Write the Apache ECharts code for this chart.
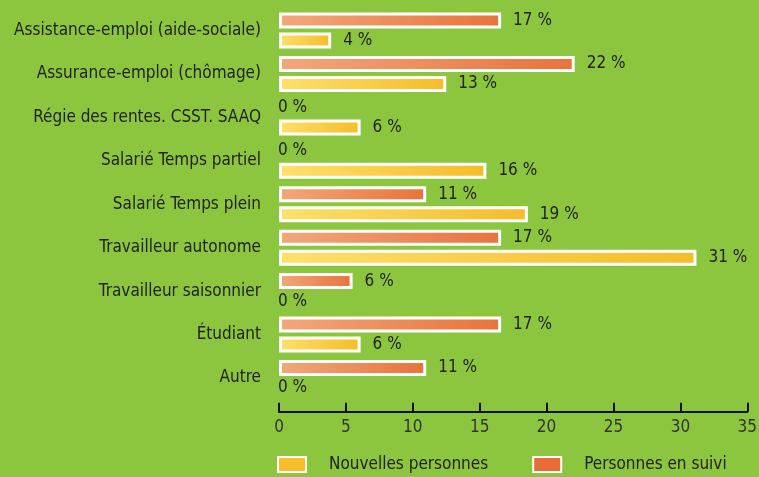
<!DOCTYPE html>
<html><head><meta charset="utf-8">
<script src="https://cdn.jsdelivr.net/npm/echarts@6/dist/echarts.min.js"></script>
<style>html,body{margin:0;padding:0;background:#8cc63f}#c{width:759px;height:477px}</style>
</head><body><div id="c"></div>
<script>
const categories = ["Assistance-emploi (aide-sociale)","Assurance-emploi (chômage)","Régie des rentes. CSST. SAAQ","Salarié Temps partiel","Salarié Temps plein","Travailleur autonome","Travailleur saisonnier","Étudiant","Autre"];
const suivi = [16.6, 22.1, 0, 0, 11.0, 16.6, 5.5, 16.6, 11.0];
const nouvelles = [3.9, 12.5, 6.1, 15.5, 18.6, 31.2, 0, 6.1, 0];
const xTicks = [0, 5, 10, 15, 20, 25, 30, 35];

const FONT = '"DejaVu Sans Condensed","Liberation Sans Narrow",sans-serif';
function items(arr){
  return arr.map(v => v === 0
    ? {value: v, itemStyle:{borderWidth:0, color:'rgba(0,0,0,0)', borderColor:'rgba(0,0,0,0)'}, label:{distance: -1}}
    : {value: v, label:{distance: 12}});
}
const orangeGrad = new echarts.graphic.LinearGradient(0,0,1,0,[{offset:0,color:'#f2a87a'},{offset:1,color:'#e8733b'}]);
const yellowGrad = new echarts.graphic.LinearGradient(0,0,1,0,[{offset:0,color:'#fde06c'},{offset:1,color:'#f5bc28'}]);
const labelCommon = {show:true, position:'right', color:'#222', fontFamily:FONT, fontSize:17, formatter: p => Math.round(p.value) + ' %'};

const chart = echarts.init(document.getElementById('c'));
chart.setOption({
  backgroundColor:'#8cc63f',
  animation:false,
  grid:{left:279, right:11.7, top:8.8, bottom:77.3, outerBoundsMode:'none', containLabel:false},
  legend:{
    data:[
      {name:'Nouvelles personnes', icon:'rect', itemStyle:{color:'#f6bd2b', borderColor:'#fff', borderWidth:2}},
      {name:'Personnes en suivi', icon:'rect', itemStyle:{color:'#e86c35', borderColor:'#fff', borderWidth:2}}
    ],
    left:277, top:456, padding:0, itemWidth:28, itemHeight:15, itemGap:44,
    textStyle:{fontFamily:FONT, fontSize:17, color:'#222', padding:[0,0,0,18]}
  },
  xAxis:{
    type:'value', min:xTicks[0], max:xTicks[xTicks.length-1], interval:5, offset:12,
    axisLine:{show:true, lineStyle:{color:'#111', width:2}},
    axisTick:{show:true, inside:true, length:9, lineStyle:{color:'#111', width:2}},
    splitLine:{show:false},
    axisLabel:{fontFamily:FONT, fontSize:17, color:'#333', margin:7}
  },
  yAxis:{
    type:'category', data:categories, inverse:true,
    axisLine:{show:false}, axisTick:{show:false},
    axisLabel:{fontFamily:FONT, fontSize:17, color:'#222', margin:18}
  },
  series:[
    {name:'Personnes en suivi', type:'bar', data:items(suivi), barWidth:16, barGap:'25%',
     itemStyle:{color:orangeGrad, borderColor:'#fff', borderWidth:3}, label:labelCommon},
    {name:'Nouvelles personnes', type:'bar', data:items(nouvelles), barWidth:16, barGap:'25%',
     itemStyle:{color:yellowGrad, borderColor:'#fff', borderWidth:3}, label:labelCommon}
  ]
});
</script>
</body></html>
